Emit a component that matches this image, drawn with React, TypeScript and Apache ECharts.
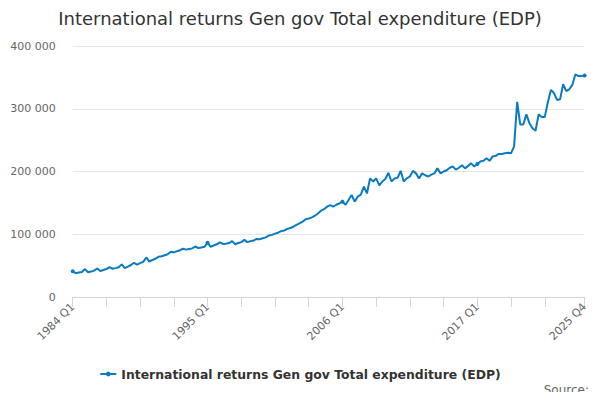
import { useEffect, useRef } from 'react';
import * as echarts from 'echarts';

const title = 'International returns Gen gov Total expenditure (EDP)';
const seriesName = 'International returns Gen gov Total expenditure (EDP)';

const firstYear = 1984;
const lastYear = 2025;
const quarterNames = ['Q1', 'Q2', 'Q3', 'Q4'];

// one row per year, Q1..Q4
const expenditure = [
  41000, 38000, 39000, 40000, // 1984
  44500, 39500, 40500, 42000, // 1985
  45500, 41500, 43000, 44500, // 1986
  47500, 45000, 46000, 47500, // 1987
  52000, 46000, 48500, 51000, // 1988
  54500, 51500, 54000, 56000, // 1989
  63000, 56500, 59000, 61000, // 1990
  64000, 65000, 66500, 68000, // 1991
  72000, 71000, 73000, 74500, // 1992
  77000, 75500, 76500, 77500, // 1993
  80500, 78000, 79000, 80000, // 1994
  86500, 80000, 82000, 84000, // 1995
  87000, 84500, 85000, 86000, // 1996
  89000, 84000, 86000, 87500, // 1997
  91000, 87500, 89000, 90000, // 1998
  92500, 92000, 93500, 95000, // 1999
  98000, 99000, 101000, 102500, // 2000
  105000, 106000, 108500, 110000, // 2001
  112000, 115000, 117500, 120000, // 2002
  124000, 125000, 127000, 129500, // 2003
  133000, 137500, 140000, 144000, // 2004
  146500, 144000, 147000, 149000, // 2005
  152000, 147000, 154500, 162500, // 2006
  152000, 160000, 163000, 176000, // 2007
  165000, 189000, 184000, 189000, // 2008
  178000, 184000, 188000, 198000, // 2009
  184000, 189000, 190000, 201000, // 2010
  184000, 189000, 192000, 201000, // 2011
  197000, 189000, 197000, 194000, // 2012
  192000, 195000, 197000, 205000, // 2013
  197000, 200000, 202000, 206000, // 2014
  208000, 203000, 206000, 210000, // 2015
  205000, 209000, 213000, 208000, // 2016
  212000, 216000, 217000, 221000, // 2017
  217000, 224000, 225000, 228000, // 2018
  228000, 229000, 230000, 229000, // 2019
  240000, 311000, 275000, 275000, // 2020
  291000, 277000, 269000, 265000, // 2021
  291000, 287000, 287000, 310000, // 2022
  330000, 325000, 314000, 315000, // 2023
  339000, 328000, 331000, 338000, // 2024
  355000, 352000, 352000, 353000, // 2025
];

const yTicks = [0, 100000, 200000, 300000, 400000];

const quarters: string[] = [];
for (let year = firstYear; year <= lastYear; year++) {
  quarterNames.forEach((q) => quarters.push(`${year} ${q}`));
}

const lineColor = '#0a7bc1';
const font = 'DejaVu Sans';

export default function App() {
  const containerRef = useRef<HTMLDivElement | null>(null);

  useEffect(() => {
    if (!containerRef.current) return;
    const chart = echarts.init(containerRef.current, undefined, { renderer: 'svg' });
    const lastIndex = quarters.length - 1;

    chart.setOption({
      animation: false,
      backgroundColor: '#ffffff',
      textStyle: { fontFamily: font },
      title: {
        text: title,
        left: 'center',
        top: 4,
        textStyle: { fontFamily: font, fontSize: 18, fontWeight: 'normal', color: '#333333' },
      },
      grid: { left: 72.7, right: 15.4, top: 46, bottom: 103 },
      legend: {
        bottom: 15,
        left: 'center',
        itemWidth: 16,
        itemHeight: 6,
        itemGap: 4,
        textStyle: { fontFamily: font, fontSize: 12.4, fontWeight: 'bold', color: '#333333' },
        data: [seriesName],
      },
      xAxis: {
        type: 'category',
        data: quarters,
        boundaryGap: false,
        axisLine: { lineStyle: { color: '#ccd6eb', width: 1 } },
        axisTick: {
          length: 10,
          lineStyle: { color: '#ccd6eb' },
          // every 11 quarters, plus the last quarter
          interval: (index: number) => (index % 11 === 0 && index <= 154) || index === lastIndex,
        },
        axisLabel: {
          rotate: 45,
          margin: 8,
          color: '#666666',
          fontSize: 11,
          fontFamily: font,
          interval: (index: number) => index % 44 === 0 || index === lastIndex,
        },
        splitLine: { show: false },
      },
      yAxis: {
        type: 'value',
        min: yTicks[0],
        max: yTicks[yTicks.length - 1],
        interval: 100000,
        axisLine: { show: false },
        axisTick: { show: false },
        axisLabel: {
          color: '#666666',
          fontSize: 11,
          fontFamily: font,
          margin: 17,
          formatter: (value: number) => String(value).replace(/\B(?=(\d{3})+(?!\d))/g, ' '),
        },
        splitLine: { lineStyle: { color: '#e6e6e6' } },
      },
      series: [
        {
          name: seriesName,
          type: 'line',
          data: expenditure,
          color: lineColor,
          symbol: 'circle',
          symbolSize: 4,
          showSymbol: true,
          lineStyle: { color: lineColor, width: 2 },
          itemStyle: { color: lineColor },
        },
      ],
      graphic: [
        {
          type: 'text',
          right: 11,
          top: 384,
          style: { text: 'Source:', fill: '#666666', fontSize: 12, fontFamily: font },
        },
      ],
    });

    return () => {
      chart.dispose();
    };
  }, []);

  return <div ref={containerRef} style={{ width: 600, height: 400, margin: -8 }} />;
}
